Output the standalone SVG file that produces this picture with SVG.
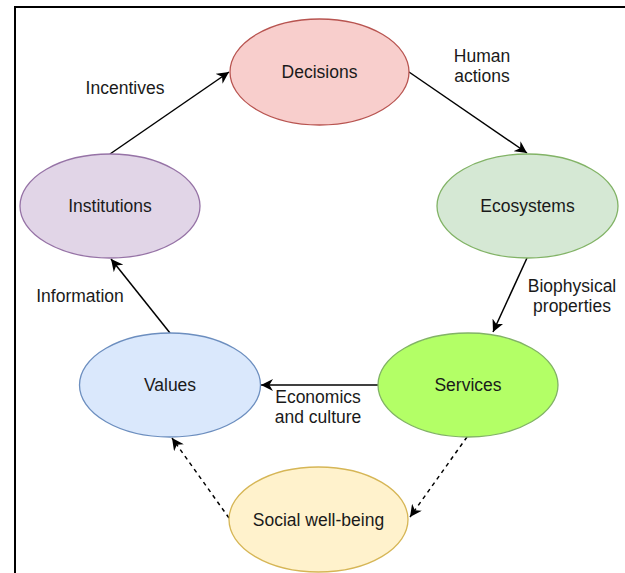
<svg xmlns="http://www.w3.org/2000/svg" width="625" height="573" viewBox="0 0 625 573">
  <style>
    .node ellipse { stroke-width: 1.3; }
    .lbl { font-family: "Liberation Sans", Arial, Helvetica, sans-serif; font-size: 17.5px; fill: #1a1a1a; text-anchor: middle; }
    .edge { stroke: #000; stroke-width: 1.5; fill: none; }
    .dash { stroke-dasharray: 4 4; }
  </style>
  <defs>
    <marker id="arrow" viewBox="0 0 10 10" refX="10" refY="5" markerWidth="12" markerHeight="12" markerUnits="userSpaceOnUse" orient="auto">
      <path d="M0,0 L10,5 L0,10 L3,5 z" fill="#000"/>
    </marker>
  </defs>

  <rect width="625" height="573" fill="#fff"/>
  <!-- frame -->
  <path d="M15,573 V7 H625" fill="none" stroke="#000" stroke-width="2"/>

  <g id="connectors">
    <line class="edge" x1="110" y1="154" x2="229" y2="72" marker-end="url(#arrow)"/>
    <line class="edge" x1="409" y1="72" x2="527" y2="153" marker-end="url(#arrow)"/>
    <line class="edge" x1="527" y1="258" x2="493" y2="332" marker-end="url(#arrow)"/>
    <line class="edge" x1="378" y1="385" x2="261" y2="385" marker-end="url(#arrow)"/>
    <line class="edge" x1="170" y1="333" x2="111" y2="259" marker-end="url(#arrow)"/>
    <line class="edge dash" x1="467" y1="437" x2="410" y2="517" marker-end="url(#arrow)"/>
    <line class="edge dash" x1="229" y1="518" x2="172" y2="438" marker-end="url(#arrow)"/>
    <text class="lbl" x="125" y="94">Incentives</text>
    <text class="lbl" x="482" y="62">Human</text>
    <text class="lbl" x="482" y="82">actions</text>
    <text class="lbl" x="572" y="292">Biophysical</text>
    <text class="lbl" x="572" y="312">properties</text>
    <text class="lbl" x="318" y="403">Economics</text>
    <text class="lbl" x="318" y="423">and culture</text>
    <text class="lbl" x="80" y="302">Information</text>
  </g>

  <g id="decisions" class="node">
    <ellipse cx="319.5" cy="72" rx="89.5" ry="53" fill="#f8cecc" stroke="#b85450"/>
    <text class="lbl" x="319.5" y="78">Decisions</text>
  </g>
  <g id="institutions" class="node">
    <ellipse cx="110" cy="206" rx="90" ry="52" fill="#e1d5e7" stroke="#9673a6"/>
    <text class="lbl" x="110" y="212">Institutions</text>
  </g>
  <g id="ecosystems" class="node">
    <ellipse cx="527.5" cy="206" rx="90.5" ry="52" fill="#d5e8d4" stroke="#82b366"/>
    <text class="lbl" x="527.5" y="212">Ecosystems</text>
  </g>
  <g id="values" class="node">
    <ellipse cx="170" cy="385" rx="90.5" ry="52" fill="#dae8fc" stroke="#6c8ebf"/>
    <text class="lbl" x="170" y="391">Values</text>
  </g>
  <g id="services" class="node">
    <ellipse cx="468" cy="385" rx="90" ry="52" fill="#b3ff66" stroke="#82b366"/>
    <text class="lbl" x="468" y="391">Services</text>
  </g>
  <g id="social-well-being" class="node">
    <ellipse cx="318.5" cy="519.5" rx="89.5" ry="52.5" fill="#fff2cc" stroke="#d6b656"/>
    <text class="lbl" x="318.5" y="526">Social well-being</text>
  </g>
</svg>
